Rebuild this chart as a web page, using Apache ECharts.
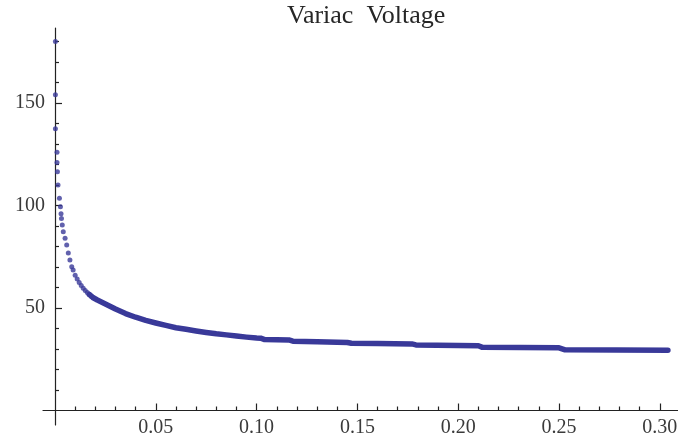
<!DOCTYPE html>
<html>
<head>
<meta charset="utf-8">
<script src="https://cdn.jsdelivr.net/npm/echarts@6/dist/echarts.min.js"></script>
<style>html,body{margin:0;padding:0;background:#fff;}#c{width:678px;height:442px;}</style>
</head>
<body>
<div id="c"></div>
<script>
// ---- data ----
const titleText = 'Variac  Voltage';
// steep part (individual dots)
const steepX = [0.0002, 0.0002, 0.0002, 0.0010, 0.0010, 0.0012, 0.0015, 0.0022, 0.0027, 0.0030, 0.0032, 0.0036, 0.0041, 0.0050, 0.0058, 0.0066, 0.0074, 0.0083, 0.0090, 0.0100, 0.0110, 0.0120, 0.0130, 0.0140, 0.0150, 0.0160, 0.0170, 0.0180, 0.0190];
const steepY = [180, 154, 137.5, 126, 121, 116.5, 110, 103.5, 99.4, 96, 93.7, 90.5, 87.2, 84, 80.7, 76.8, 73.4, 70.1, 68.5, 66, 64.2, 62.5, 61, 59.7, 58.6, 57.6, 56.6, 55.7, 55];
// flat part (dense points forming a thick band)
const curveX = [0.017, 0.019, 0.021, 0.025, 0.030, 0.035, 0.040, 0.045, 0.050, 0.055, 0.060, 0.065, 0.070, 0.075, 0.080, 0.085, 0.090, 0.095, 0.100, 0.102, 0.104, 0.116, 0.118, 0.130, 0.140, 0.145, 0.147, 0.160, 0.177, 0.179, 0.200, 0.210, 0.212, 0.250, 0.253, 0.304];
const curveY = [56.6, 55, 53.9, 52, 49.5, 47.3, 45.5, 44, 42.7, 41.5, 40.4, 39.6, 38.8, 38.1, 37.4, 36.9, 36.3, 35.8, 35.4, 35.3, 34.6, 34.4, 33.8, 33.5, 33.3, 33.2, 32.8, 32.7, 32.5, 32.0, 31.7, 31.6, 30.8, 30.6, 29.6, 29.4];
const xMajorTicks = [0.05, 0.10, 0.15, 0.20, 0.25, 0.30];
const xMinorTicks = [0.01, 0.02, 0.03, 0.04, 0.06, 0.07, 0.08, 0.09, 0.11, 0.12, 0.13, 0.14, 0.16, 0.17, 0.18, 0.19, 0.21, 0.22, 0.23, 0.24, 0.26, 0.27, 0.28, 0.29];
const yMajorTicks = [50, 100, 150];
const yMinorTicks = [10, 20, 30, 40, 60, 70, 80, 90, 110, 120, 130, 140, 160, 170, 180];

const X_MIN = -0.00595, X_MAX = 0.309, Y_MIN = -7.07, Y_MAX = 186.6;
const GRID_L = 43, GRID_R = 0, GRID_T = 28, GRID_B = 17;
const dotColor = '#393999';
const fontFam = '"Liberation Serif", "DejaVu Serif", serif';
const axisCol = '#222';
const labelCol = '#3a3a3a';

// offsets so the axes cross at (0,0) like the reference
const gridW = 678 - GRID_L - GRID_R, gridH = 442 - GRID_T - GRID_B;
const yAxisOffset = -(0 - X_MIN) / (X_MAX - X_MIN) * gridW;
const xAxisOffset = -(0 - Y_MIN) / (Y_MAX - Y_MIN) * gridH;

const chart = echarts.init(document.getElementById('c'), null, {renderer: 'canvas'});

const xBase = {
  type: 'value', min: X_MIN, max: X_MAX, position: 'bottom', offset: xAxisOffset,
  splitLine: {show: false},
  axisLine: {onZero: false, lineStyle: {color: axisCol, width: 1.2}}
};
const yBase = {
  type: 'value', min: Y_MIN, max: Y_MAX, position: 'left', offset: yAxisOffset,
  splitLine: {show: false},
  axisLine: {onZero: false, lineStyle: {color: axisCol, width: 1.2}}
};

chart.setOption({
  animation: false,
  backgroundColor: '#fff',
  title: {
    text: titleText, left: 282, top: -2,
    textStyle: {fontFamily: fontFam, fontSize: 26, fontWeight: 'normal', color: '#262626'}
  },
  grid: {left: GRID_L, right: GRID_R, top: GRID_T, bottom: GRID_B, containLabel: false, outerBoundsMode: 'none'},
  xAxis: [
    Object.assign({}, xBase, {
      axisTick: {show: true, inside: true, length: 7, customValues: xMajorTicks, lineStyle: {color: axisCol, width: 1.2}},
      axisLabel: {show: true, customValues: xMajorTicks, margin: 7, color: labelCol, fontFamily: fontFam, fontSize: 20,
        formatter: v => v.toFixed(2)}
    }),
    Object.assign({}, xBase, {
      axisLine: {show: false, onZero: false},
      axisTick: {show: true, inside: true, length: 4, customValues: xMinorTicks, lineStyle: {color: axisCol, width: 1.2}},
      axisLabel: {show: false}
    })
  ],
  yAxis: [
    Object.assign({}, yBase, {
      axisTick: {show: true, inside: true, length: 7, customValues: yMajorTicks, lineStyle: {color: axisCol, width: 1.2}},
      axisLabel: {show: true, customValues: yMajorTicks, margin: 10, color: labelCol, fontFamily: fontFam, fontSize: 20}
    }),
    Object.assign({}, yBase, {
      axisLine: {show: false, onZero: false},
      axisTick: {show: true, inside: true, length: 4, customValues: yMinorTicks, lineStyle: {color: axisCol, width: 1.2}},
      axisLabel: {show: false}
    })
  ],
  series: [
    {
      type: 'scatter', xAxisIndex: 0, yAxisIndex: 0,
      data: steepX.map((x, i) => [x, steepY[i]]),
      symbolSize: 5, itemStyle: {color: dotColor}
    },
    {
      type: 'line', xAxisIndex: 0, yAxisIndex: 0,
      data: curveX.map((x, i) => [x, curveY[i]]),
      showSymbol: false, smooth: false,
      lineStyle: {color: dotColor, width: 5.5, cap: 'round', join: 'round'}
    }
  ]
});
</script>
</body>
</html>
